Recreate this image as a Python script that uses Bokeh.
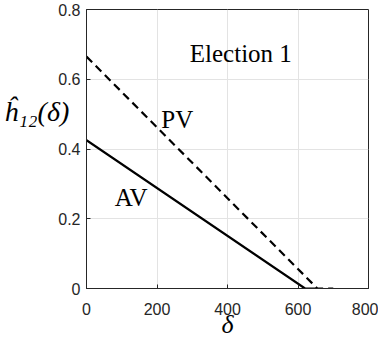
from bokeh.plotting import figure
from bokeh.models import Label, FixedTicker, Range1d
from bokeh.embed import file_html
from bokeh.resources import INLINE

# data
av_x = [0, 620, 650]
av_y = [0.425, 0.0, 0.0]
pv_x = [0, 655, 700]
pv_y = [0.665, 0.0, 0.0]
x_ticks = [0, 200, 400, 600, 800]
y_ticks = [0, 0.2, 0.4, 0.6, 0.8]
y_tick_labels = ["0", "0.2", "0.4", "0.6", "0.8"]

p = figure(width=378, height=341, output_backend="svg", toolbar_location=None,
           x_range=Range1d(0, 800), y_range=Range1d(0, 0.8),
           min_border_left=86, min_border_right=10, min_border_top=9, min_border_bottom=20)
p.background_fill_color = "white"
p.border_fill_color = "white"
p.outline_line_color = "#262626"
p.outline_line_width = 1

p.line(av_x, av_y, line_color="black", line_width=2.2)
p.line(pv_x, pv_y, line_color="black", line_width=2.2, line_dash="8 5")

for ax in (p.xaxis[0], p.yaxis[0]):
    ax.axis_line_color = "#262626"
    ax.major_tick_line_color = "#262626"
    ax.major_tick_in = 4
    ax.major_tick_out = 0
    ax.minor_tick_line_color = None
    ax.major_label_text_font = "Liberation Sans"
    ax.major_label_text_font_size = "16px"
    ax.major_label_text_color = "#262626"
    ax.axis_label_text_font = "Liberation Serif"
    ax.axis_label_text_font_style = "italic"
    ax.axis_label_text_font_size = "28px"
    ax.axis_label_text_color = "black"

p.xaxis.ticker = FixedTicker(ticks=x_ticks)
p.yaxis.ticker = FixedTicker(ticks=y_ticks)
p.yaxis.major_label_overrides = {t: s for t, s in zip(y_ticks, y_tick_labels)}
p.xaxis.major_label_standoff = 14
p.yaxis.major_label_standoff = 6

p.xaxis.axis_label = "δ"
p.xaxis.axis_label_text_font_size = "26px"
p.xaxis.axis_label_standoff = -8
p.yaxis.axis_label = "ĥ₁₂(δ)\n\n"
p.yaxis.axis_label_orientation = "horizontal"
p.yaxis.axis_label_standoff = -14

p.xgrid.grid_line_color = "#e3e3e3"
p.ygrid.grid_line_color = "#e3e3e3"

serif = "Liberation Serif"
for txt, x, y in [("Election 1", 293, 0.675), ("PV", 212, 0.485), ("AV", 80, 0.26)]:
    p.add_layout(Label(x=x, y=y, text=txt, text_font=serif, text_font_size="25px",
                       text_color="black", text_baseline="alphabetic"))

open("out.html", "w").write(file_html(p, INLINE))
